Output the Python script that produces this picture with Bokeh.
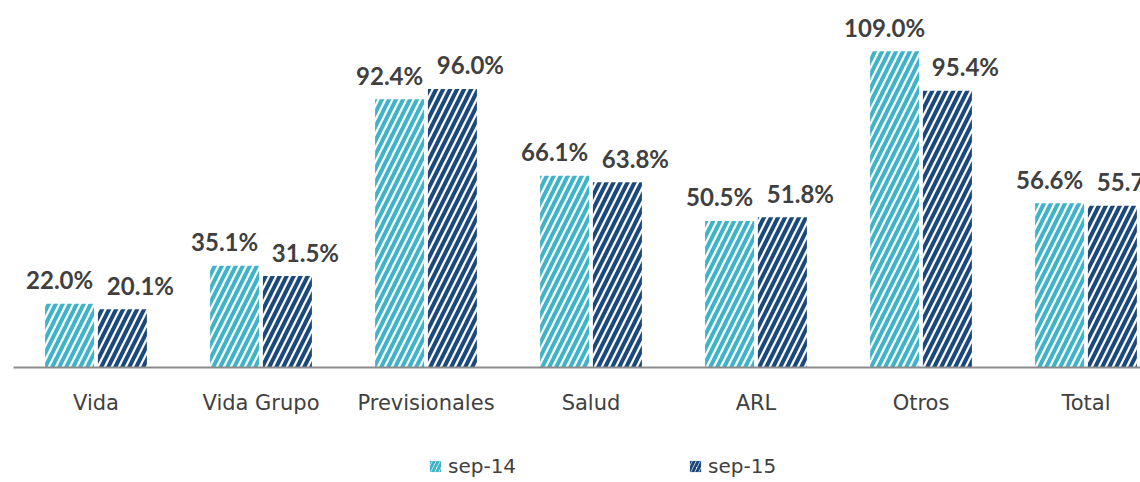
from bokeh.plotting import figure
from bokeh.models import ColumnDataSource, Range1d, FixedTicker, Legend, LegendItem
from bokeh.layouts import column
from bokeh.core.properties import value
from bokeh.embed import file_html
from bokeh.resources import INLINE

categories = ["Vida", "Vida Grupo", "Previsionales", "Salud", "ARL", "Otros", "Total"]
sep14 = [22.0, 35.1, 92.4, 66.1, 50.5, 109.0, 56.6]
sep15 = [20.1, 31.5, 96.0, 63.8, 51.8, 95.4, 55.7]
series_names = ["sep-14", "sep-15"]

LIGHT = "#3FB3C8"
DARK = "#1B497B"
TEXT = "#404040"
HATCH = dict(fill_color="white", line_color=None, hatch_pattern="/",
             hatch_scale=14, hatch_weight=4)

xc = [i + 0.5 for i in range(len(categories))]
off = 0.16
bw = 0.297

p = figure(width=1140, height=447, output_backend="svg", toolbar_location=None,
           x_range=Range1d(0, 1127 / 165), y_range=Range1d(0, 123.7),
           y_axis_location=None, min_border_left=13, min_border_right=0,
           min_border_top=8, min_border_bottom=80)
p.outline_line_color = None
p.xgrid.visible = False
p.ygrid.visible = False

src14 = ColumnDataSource(dict(x=[c - off for c in xc], top=sep14,
                              lab=[f"{v:.1f}%" for v in sep14]))
src15 = ColumnDataSource(dict(x=[c + off for c in xc], top=sep15,
                              lab=[f"{v:.1f}%" for v in sep15]))

p.vbar(x="x", top="top", width=bw, source=src14, hatch_color=LIGHT, **HATCH)
p.vbar(x="x", top="top", width=bw, source=src15, hatch_color=DARK, **HATCH)

for src, xo in ((src14, -10), (src15, 18)):
    p.text(x="x", y="top", text="lab", source=src, x_offset=xo, y_offset=-24,
           text_align="center", text_baseline="alphabetic",
           text_font=value("Lato"), text_font_style="bold",
           text_font_size="24px", text_color=TEXT)

ax = p.xaxis[0]
ax.ticker = FixedTicker(ticks=xc)
ax.major_label_overrides = {c: n for c, n in zip(xc, categories)}
ax.axis_line_color = "#8C8C8C"
ax.axis_line_width = 2
ax.major_tick_line_color = None
ax.minor_tick_line_color = None
ax.major_label_standoff = 17
ax.major_label_text_font = "DejaVu Sans"
ax.major_label_text_font_size = "21px"
ax.major_label_text_color = TEXT

# legend strip
lg = figure(width=1140, height=35, output_backend="svg", toolbar_location=None,
            x_range=Range1d(0, 1), y_range=Range1d(0, 1),
            x_axis_location=None, y_axis_location=None,
            min_border_left=0, min_border_right=0, min_border_top=0,
            min_border_bottom=0)
lg.outline_line_color = None
lg.xgrid.visible = False
lg.ygrid.visible = False
hidden = dict(x=[-5], top=[-5])
d14 = lg.vbar(x="x", top="top", width=0.1, source=ColumnDataSource(hidden),
              hatch_color=LIGHT, fill_color="white", line_color=None,
              hatch_pattern="/", hatch_scale=8, hatch_weight=3)
d15 = lg.vbar(x="x", top="top", width=0.1, source=ColumnDataSource(hidden),
              hatch_color=DARK, fill_color="white", line_color=None,
              hatch_pattern="/", hatch_scale=8, hatch_weight=3)
legend = Legend(items=[LegendItem(label=series_names[0], renderers=[d14], index=0),
                       LegendItem(label=series_names[1], renderers=[d15], index=0)],
                orientation="horizontal", location=(415, 4),
                glyph_width=14, glyph_height=14, label_standoff=6, spacing=172,
                padding=0, margin=0, border_line_color=None,
                background_fill_alpha=0,
                label_text_font="DejaVu Sans", label_text_font_size="20px",
                label_text_color=TEXT)
lg.add_layout(legend, "center")

layout = column(p, lg, spacing=0)
open("out.html", "w").write(file_html(layout, INLINE))
